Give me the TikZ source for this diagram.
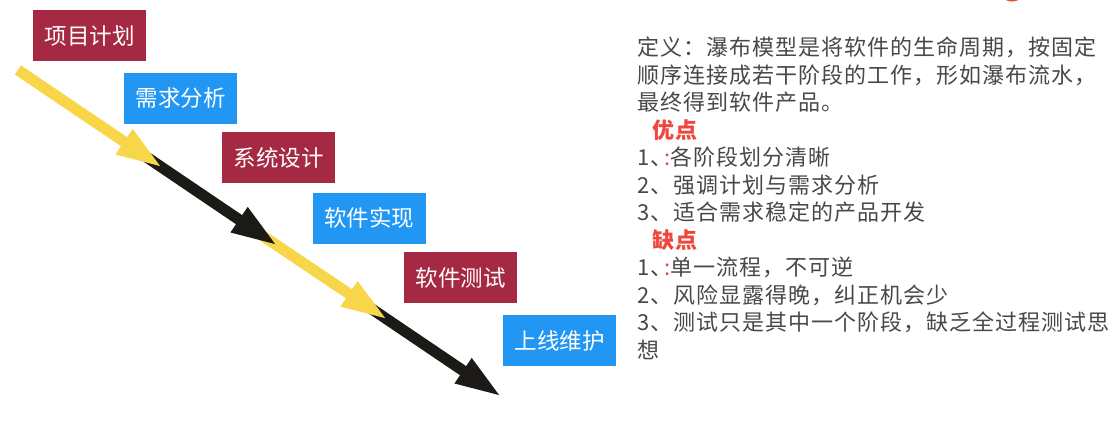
\documentclass[tikz,border=0pt]{standalone}
\usepackage{fontspec}
\setmainfont{Noto Sans CJK SC}
\newfontfamily\notefont[LetterSpace=4.5]{Noto Sans CJK SC}
\usetikzlibrary{arrows.meta}
\definecolor{stagered}{HTML}{A62944}
\definecolor{stageblue}{HTML}{2196F3}
\definecolor{flowyellow}{HTML}{F8D64A}
\definecolor{flowblack}{HTML}{1C1A16}
\definecolor{notered}{HTML}{F0463C}
\definecolor{notegray}{HTML}{484848}
\tikzset{
  stage/.style={minimum width=113pt, minimum height=51pt, inner sep=0pt, text=white, font=\fontsize{22.5}{22.5}\selectfont},
  flow/.style={line width=11pt, -{Triangle[length=47pt,width=27pt]}},
}
\begin{document}
\begin{tikzpicture}[x=1pt,y=-1pt]
\useasboundingbox (0,0) rectangle (1115,437);
\fill [notered] (1012,-12) circle (13.5);
% stages
\node [stage, fill=stagered] (plan) at (89.5,35.5) {项目计划};
\node [stage, fill=stageblue] (req) at (180.5,98) {需求分析};
\node [stage, fill=stagered] (design) at (278.5,157.5) {系统设计};
\node [stage, fill=stageblue] (impl) at (369,218) {软件实现};
\node [stage, fill=stagered] (test) at (460.5,277.5) {软件测试};
\node [stage, fill=stageblue] (maint) at (559.5,340.5) {上线维护};
% flow arrows
\coordinate (y1s) at (18,70);    \coordinate (y1e) at (163,168);
\coordinate (b1s) at (142,154);  \coordinate (b1e) at (278,246);
\coordinate (y2s) at (254,230);  \coordinate (y2e) at (388,320);
\coordinate (b2s) at (363,303);  \coordinate (b2e) at (502,397);
\draw [flow, flowblack] (b2s) -- (b2e);
\draw [flow, flowyellow] (y2s) -- (y2e);
\draw [flow, flowblack] (b1s) -- (b1e);
\draw [flow, flowyellow] (y1s) -- (y1e);
% definition
\node [anchor=north west, align=left, inner sep=0pt, text=notegray, font=\notefont\fontsize{22}{27.5}\selectfont] (note) at (637,37) {%
定义：瀑布模型是将软件的生命周期，按固定\\
顺序连接成若干阶段的工作，形如瀑布流水，\\
最终得到软件产品。\\
\hspace*{15pt}{\color{notered}\bfseries 优点}\\
1、\kern-8pt\textcolor{notered}{:}各阶段划分清晰\\
2、强调计划与需求分析\\
3、适合需求稳定的产品开发\\
\hspace*{15pt}{\color{notered}\bfseries 缺点}\\
1、\kern-8pt\textcolor{notered}{:}单一流程，不可逆\\
2、风险显露得晚，纠正机会少\\
3、测试只是其中一个阶段，缺乏全过程测试思\\
想};
\end{tikzpicture}
\end{document}
